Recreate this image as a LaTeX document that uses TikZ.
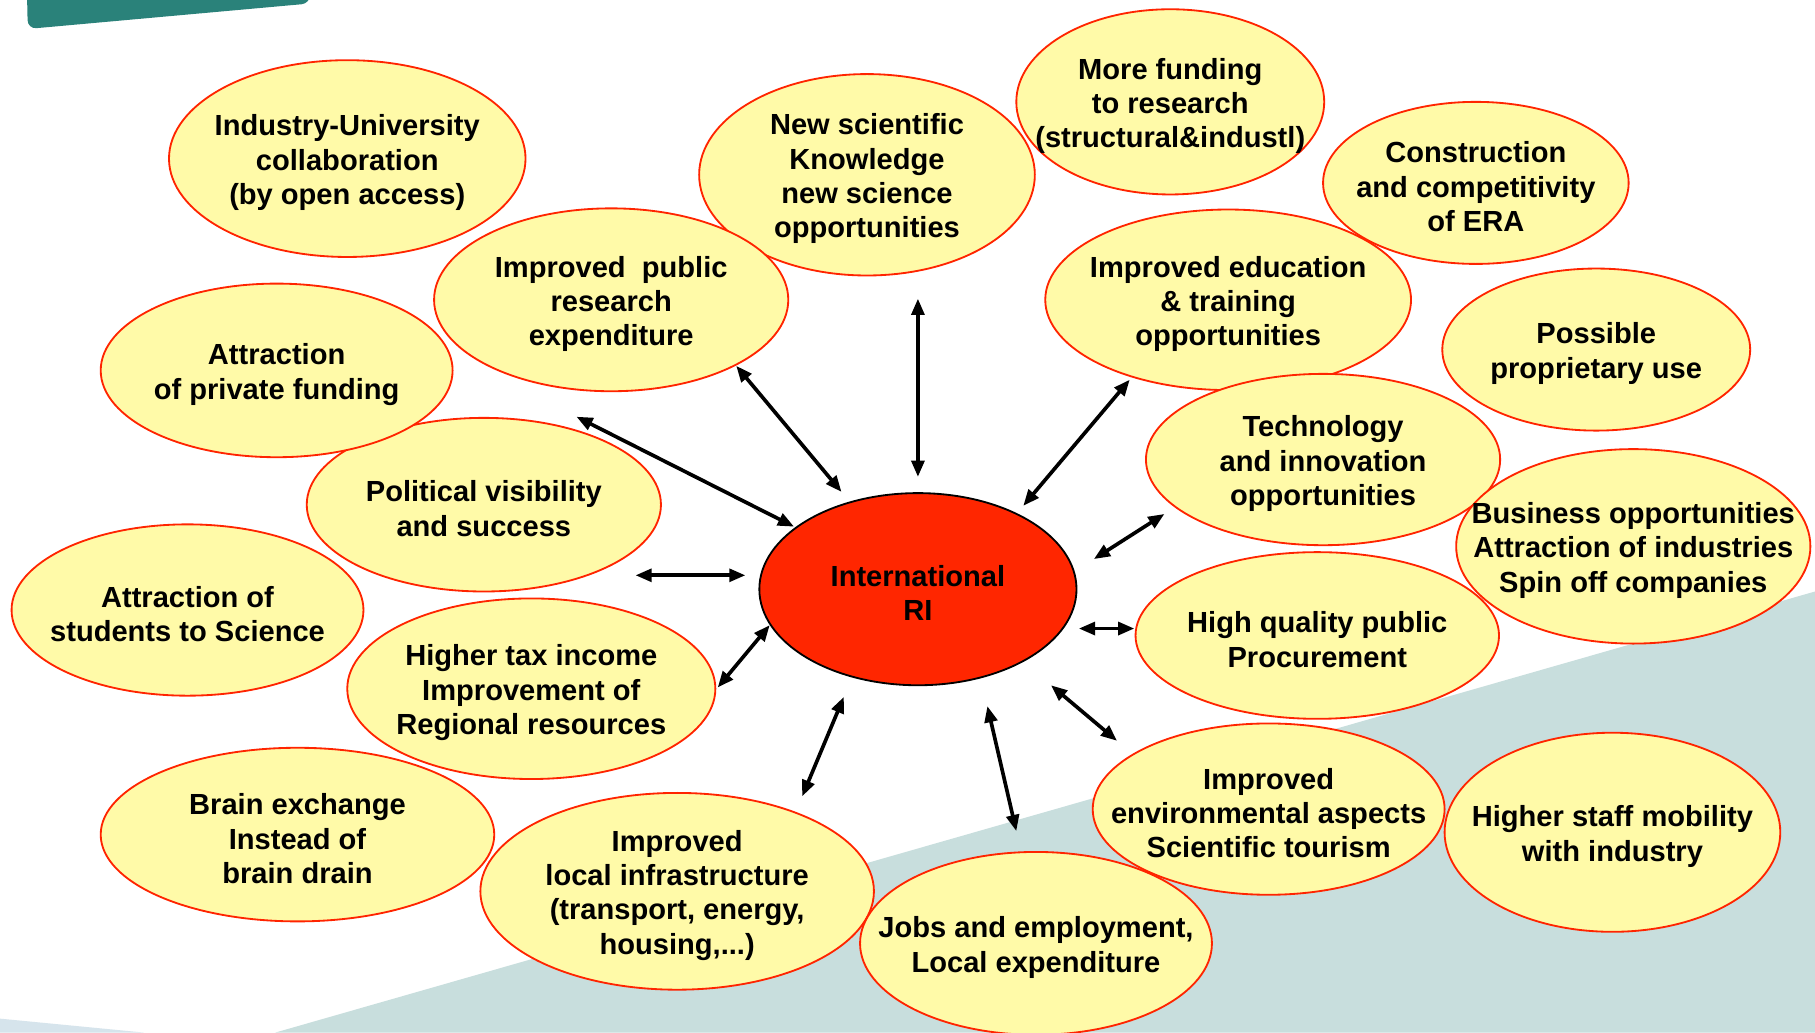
\documentclass[tikz,border=0pt]{standalone}
\usepackage{fontspec}
\setmainfont{Liberation Sans}
\usetikzlibrary{arrows.meta}

\definecolor{bubblefill}{RGB}{255,250,168}
\definecolor{bubbleline}{RGB}{255,36,0}
\definecolor{corered}{RGB}{255,38,0}
\definecolor{slideteal}{RGB}{200,222,221}
\definecolor{slidepale}{RGB}{214,228,236}
\definecolor{slidebar}{RGB}{42,130,122}

\begin{document}
\begin{tikzpicture}[x=0.02cm, y=-0.02cm,
    bubble/.style={fill=bubblefill, draw=bubbleline, line width=0.9pt},
    core/.style={fill=corered, draw=black, line width=0.9pt},
    txt/.style={align=center, inner sep=0pt, yshift=-0.07cm,
        font=\fontsize{14.3}{16.9}\selectfont\bfseries},
    link/.style={{Triangle[length=2.8mm,width=2.2mm]}-{Triangle[length=2.8mm,width=2.2mm]},
        line width=1.8pt}]

    % 1. Nền slide
    \useasboundingbox (0,0) rectangle (1568,892);
    \fill[white] (0,0) rectangle (1568,892);
    \fill[slideteal] (238,892) -- (1568,511) -- (1568,892) -- cycle;
    \fill[slidepale] (0,880) -- (124,892) -- (0,892) -- cycle;
    \fill[slidebar, rounded corners=0.15cm] (23,-20) -- (268,-20) -- (268,3) -- (24,25) -- cycle;

    % 2. Các bong bóng (vẽ từ sau ra trước)
    \draw[bubble] (300,137) ellipse (154 and 85) node[txt] (indus) {Industry-University\\collaboration\\(by open access)};
    \draw[bubble] (749,151) ellipse (145 and 87) node[txt] (newsci) {New scientific\\Knowledge\\new science\\opportunities};
    \draw[bubble] (1011,88) ellipse (133 and 80) node[txt] (funding) {More funding\\to research\\(structural\&industl)};
    \draw[bubble] (1275,158) ellipse (132 and 70) node[txt] (era) {Construction\\and competitivity\\of ERA};
    \draw[bubble] (528,259) ellipse (153 and 79) node[txt] (pubres) {Improved\ \ public\\research\\expenditure};
    \draw[bubble] (1061,259) ellipse (158 and 78) node[txt] (edu) {Improved education\\\& training\\opportunities};
    \draw[bubble] (1379,302) ellipse (133 and 70) node[txt] (propri) {Possible\\proprietary use};
    \draw[bubble] (418,436) ellipse (153 and 75) node[txt] (polit) {Political visibility\\and success};
    \draw[bubble] (239,320) ellipse (152 and 75) node[txt] (private) {Attraction\\of private funding};
    \draw[bubble] (1143,397) ellipse (153 and 74) node[txt] (tech) {Technology\\and innovation\\opportunities};
    \draw[bubble] (1411,472) ellipse (153 and 84) node[txt] (business) {Business opportunities\\Attraction of industries\\Spin off companies};
    \draw[bubble] (162,527) ellipse (152 and 74) node[txt] (students) {Attraction of\\students to Science};
    \draw[bubble] (1138,549) ellipse (157 and 72) node[txt] (proc) {High quality public\\Procurement};
    \draw[bubble] (459,595) ellipse (159 and 78) node[txt] (tax) {Higher tax income\\Improvement of\\Regional resources};
    \draw[bubble] (257,721) ellipse (170 and 75) node[txt] (brain) {Brain exchange\\Instead of\\brain drain};
    \draw[bubble] (585,770) ellipse (170 and 85) node[txt] (infra) {Improved\\local infrastructure\\(transport, energy,\\housing,...)};
    \draw[bubble] (1096,699) ellipse (152 and 74) node[txt] (env) {Improved\\environmental aspects\\Scientific tourism};
    \draw[bubble] (1393,719) ellipse (145 and 86) node[txt] (mobility) {Higher staff mobility\\with industry};
    \draw[bubble] (895,815) ellipse (152 and 79) node[txt] (jobs) {Jobs and employment,\\Local expenditure};

    % Tâm: RI quốc tế
    \draw[core] (793,509) ellipse (137 and 83) node[txt] (ri) {International\\RI};

    % 3. Mũi tên hai chiều: đầu ngoài t, đầu trong s
    \coordinate (t1)  at (636,316);  \coordinate (s1)  at (727,425);  % pubres
    \coordinate (t2)  at (793,258);  \coordinate (s2)  at (793,412);  % newsci
    \coordinate (t3)  at (976,328);  \coordinate (s3)  at (884,437);  % edu
    \coordinate (t4)  at (498,360);  \coordinate (s4)  at (686,455);  % private
    \coordinate (t5)  at (549,497);  \coordinate (s5)  at (644,497);  % polit
    \coordinate (t6)  at (620,594);  \coordinate (s6)  at (665,540);  % tax
    \coordinate (t7)  at (693,688);  \coordinate (s7)  at (729,602);  % infra
    \coordinate (t8)  at (878,718);  \coordinate (s8)  at (853,610);  % jobs
    \coordinate (t9)  at (965,640);  \coordinate (s9)  at (908,592);  % env
    \coordinate (t10) at (980,543);  \coordinate (s10) at (932,543);  % proc
    \coordinate (t11) at (1006,444); \coordinate (s11) at (945,483);  % tech

    \foreach \i in {1,...,11}
        \draw[link] (t\i) -- (s\i);

\end{tikzpicture}
\end{document}
